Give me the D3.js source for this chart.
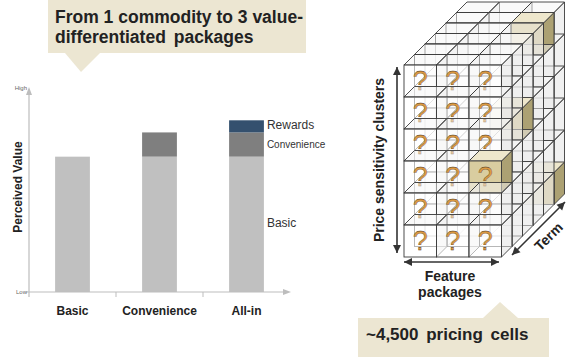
<!DOCTYPE html>
<html>
<head>
<meta charset="utf-8">
<script src="https://cdn.jsdelivr.net/npm/d3@7"></script>
<style>
  body { margin: 0; background: #fff; }
  svg { display: block; font-family: "Liberation Sans", Arial, sans-serif; }
</style>
</head>
<body>
<div id="chart"></div>
<script>
// packages and the value stack of each
var packages = ["Basic", "Convenience", "All-in"];
var components = ["Basic", "Convenience", "Rewards"];
var basicValue = [67, 67, 67];
var convenienceValue = [0, 12, 12];
var rewardsValue = [0, 0, 6];
var componentColors = ["#c0c0c0", "#7f7f7f", "#34506e"];

// pricing cube: feature packages x price clusters x term
var featureCount = 3;
var clusterCount = 6;
var termCount = 6;
// highlighted cells [feature, cluster, term]
var highlighted = [[2, 0, 4], [2, 2, 2], [2, 3, 0], [2, 5, 5]];

var svgWidth = 586, svgHeight = 357;
var svg = d3.select("#chart").append("svg")
    .attr("width", svgWidth)
    .attr("height", svgHeight);

// ---------- title callout ----------
var calloutFill = "#ece6d2";
svg.append("rect").attr("x", 48).attr("y", 0).attr("width", 258).attr("height", 53).attr("fill", calloutFill);
svg.append("path").attr("d", "M65,53 L100,53 L81,72 Z").attr("fill", calloutFill);
var title = svg.append("text")
    .attr("font-size", 17.5).attr("font-weight", "bold").attr("fill", "#222");
title.append("tspan").attr("x", 55).attr("y", 23).text("From 1 commodity to 3 value-");
title.append("tspan").attr("x", 55).attr("y", 43).attr("word-spacing", 3).text("differentiated packages");

// ---------- stacked bars ----------
var xScale = d3.scaleBand()
    .domain(packages)
    .range([29, 290])
    .paddingInner(0.6)
    .paddingOuter(0.3);
var yScale = d3.scaleLinear()
    .domain([0, 100])
    .range([292, 90]);

var stackData = packages.map(function(p, i) {
    return { pkg: p, Basic: basicValue[i], Convenience: convenienceValue[i], Rewards: rewardsValue[i] };
});
var series = d3.stack().keys(components)(stackData);

var chartGroup = svg.append("g");
series.forEach(function(s, k) {
    chartGroup.selectAll(".seg" + k)
        .data(s.filter(d => d[1] > d[0]))
        .enter()
        .append("rect")
        .attr("x", d => xScale(d.data.pkg))
        .attr("y", d => yScale(d[1]))
        .attr("width", xScale.bandwidth())
        .attr("height", d => yScale(d[0]) - yScale(d[1]))
        .attr("fill", componentColors[k]);
});

// axes
var axisColor = "#bdbdbd";
chartGroup.append("line").attr("x1", 29).attr("x2", 29).attr("y1", 297).attr("y2", 92)
    .attr("stroke", axisColor).attr("stroke-width", 1.2);
chartGroup.append("path").attr("d", "M26,95 L29,87 L32,95 Z").attr("fill", axisColor);
chartGroup.append("line").attr("x1", 26).attr("x2", 286).attr("y1", 292).attr("y2", 292)
    .attr("stroke", axisColor).attr("stroke-width", 1.2);
chartGroup.append("path").attr("d", "M283,289 L291,292 L283,295 Z").attr("fill", axisColor);

var bottomAxis = d3.axisBottom(xScale).tickSize(0).tickPadding(14);
var xAxisGroup = chartGroup.append("g")
    .attr("transform", "translate(0, 292)")
    .call(bottomAxis);
xAxisGroup.select(".domain").remove();
xAxisGroup.selectAll("text")
    .attr("font-family", "Liberation Sans, Arial, sans-serif")
    .attr("font-size", 12).attr("font-weight", "bold").attr("fill", "#222");
// divider ticks between categories
[1, 2].forEach(function(i) {
    var xt = xScale.range()[0] + xScale.step() * i;
    chartGroup.append("line").attr("x1", xt).attr("x2", xt).attr("y1", 292).attr("y2", 297)
        .attr("stroke", axisColor).attr("stroke-width", 1);
});

svg.append("text").attr("x", 27).attr("y", 90).attr("text-anchor", "end")
    .attr("font-size", 6).attr("fill", "#666").text("High");
svg.append("text").attr("x", 27).attr("y", 294).attr("text-anchor", "end")
    .attr("font-size", 6).attr("fill", "#666").text("Low");

svg.append("text")
    .attr("transform", "translate(22, 187) rotate(-90)")
    .attr("text-anchor", "middle")
    .attr("font-size", 12).attr("font-weight", "bold").attr("fill", "#222")
    .text("Perceived Value");

// component labels beside All-in bar
var labelX = xScale("All-in") + xScale.bandwidth() + 3;
var labelSizes = [12, 10, 12];
series.forEach(function(s, k) {
    var d = s[2];
    svg.append("text")
        .attr("x", labelX)
        .attr("y", yScale((d[0] + d[1]) / 2) + (k === 1 ? 3.5 : 3))
        .attr("font-size", labelSizes[k]).attr("fill", "#333")
        .text(components[k]);
});

// ---------- pricing cube ----------
var colX = d3.scaleLinear().domain([0, featureCount]).range([404, 501.5]);
var rowY = d3.scaleLinear().domain([0, clusterCount]).range([65, 257]);
var depth = d3.scaleLinear().domain([0, termCount]).range([0, 63]);

function isHi(c, r, t) {
    return highlighted.some(h => h[0] === c && h[1] === r && h[2] === t);
}

var cubes = [];
for (var t = termCount - 1; t >= 0; t--) {
    for (var r = 0; r < clusterCount; r++) {
        for (var c = 0; c < featureCount; c++) {
            cubes.push({ c: c, r: r, t: t, hi: isHi(c, r, t) });
        }
    }
}

var cubeGroup = svg.append("g");
cubes.forEach(function(q) {
    var x0 = colX(q.c) + depth(q.t), x1 = colX(q.c + 1) + depth(q.t);
    var y0 = rowY(q.r) - depth(q.t), y1 = rowY(q.r + 1) - depth(q.t);
    var dd = depth(1);
    var g = cubeGroup.append("g");
    var edge = "#3a3a3a";
    // right side face
    g.append("path")
        .attr("d", `M${x1},${y0} L${x1 + dd},${y0 - dd} L${x1 + dd},${y1 - dd} L${x1},${y1} Z`)
        .attr("fill", q.hi ? "#aca173" : "#e4e4e4")
        .attr("fill-opacity", q.hi ? 1 : 0.55)
        .attr("stroke", edge).attr("stroke-width", 0.9);
    // top face
    g.append("path")
        .attr("d", `M${x0},${y0} L${x0 + dd},${y0 - dd} L${x1 + dd},${y0 - dd} L${x1},${y0} Z`)
        .attr("fill", q.hi ? "#eee7cc" : "#f6f6f6")
        .attr("fill-opacity", q.hi ? 1 : 0.5)
        .attr("stroke", edge).attr("stroke-width", 0.9);
    // front face
    g.append("rect")
        .attr("x", x0).attr("y", y0)
        .attr("width", x1 - x0).attr("height", y1 - y0)
        .attr("fill", q.hi ? "#d9cda0" : "#fff")
        .attr("fill-opacity", q.hi ? 1 : 0.6)
        .attr("stroke", edge).attr("stroke-width", 0.9);
    if (q.t === 0) {
        g.append("text")
            .attr("x", (x0 + x1) / 2).attr("y", y0 + 25)
            .attr("text-anchor", "middle")
            .attr("font-size", 27)
            .attr("fill", "#dc9a42")
            .attr("stroke", "#3d2c18").attr("stroke-width", 0.3)
            .text("?");
    }
});

// cube arrows
var arrowColor = "#333";
function arrow(x1, y1, x2, y2) {
    var ang = Math.atan2(y2 - y1, x2 - x1);
    var len = 8, wid = 4;
    svg.append("line").attr("x1", x1).attr("y1", y1).attr("x2", x2).attr("y2", y2)
        .attr("stroke", arrowColor).attr("stroke-width", 1.6);
    [[x2, y2, ang], [x1, y1, ang + Math.PI]].forEach(function(p) {
        var bx = p[0] - len * Math.cos(p[2]), by = p[1] - len * Math.sin(p[2]);
        var nx = -Math.sin(p[2]) * wid, ny = Math.cos(p[2]) * wid;
        svg.append("path")
            .attr("d", `M${p[0]},${p[1]} L${bx + nx},${by + ny} L${bx - nx},${by - ny} Z`)
            .attr("fill", arrowColor);
    });
}
arrow(397, 253, 397, 67);
arrow(404, 262, 499, 262);
arrow(512, 255, 565, 202);

svg.append("text")
    .attr("transform", "translate(384, 160) rotate(-90)")
    .attr("text-anchor", "middle")
    .attr("font-size", 14).attr("font-weight", "bold").attr("fill", "#222")
    .text("Price sensitivity clusters");

var feat = svg.append("text").attr("text-anchor", "middle")
    .attr("font-size", 14).attr("font-weight", "bold").attr("fill", "#222");
feat.append("tspan").attr("x", 450).attr("y", 281).text("Feature");
feat.append("tspan").attr("x", 450).attr("y", 297).text("packages");

svg.append("text")
    .attr("transform", "translate(552, 240) rotate(-45)")
    .attr("text-anchor", "middle")
    .attr("font-size", 14).attr("font-weight", "bold").attr("fill", "#222")
    .text("Term");

// bottom callout
svg.append("rect").attr("x", 358).attr("y", 318).attr("width", 191).attr("height", 39).attr("fill", calloutFill);
svg.append("path").attr("d", "M483,318 L518,318 L500,302 Z").attr("fill", calloutFill);
svg.append("text").attr("x", 366).attr("y", 340)
    .attr("font-size", 17).attr("font-weight", "bold").attr("fill", "#222")
    .attr("word-spacing", 3)
    .text("~4,500 pricing cells");
</script>
</body>
</html>
